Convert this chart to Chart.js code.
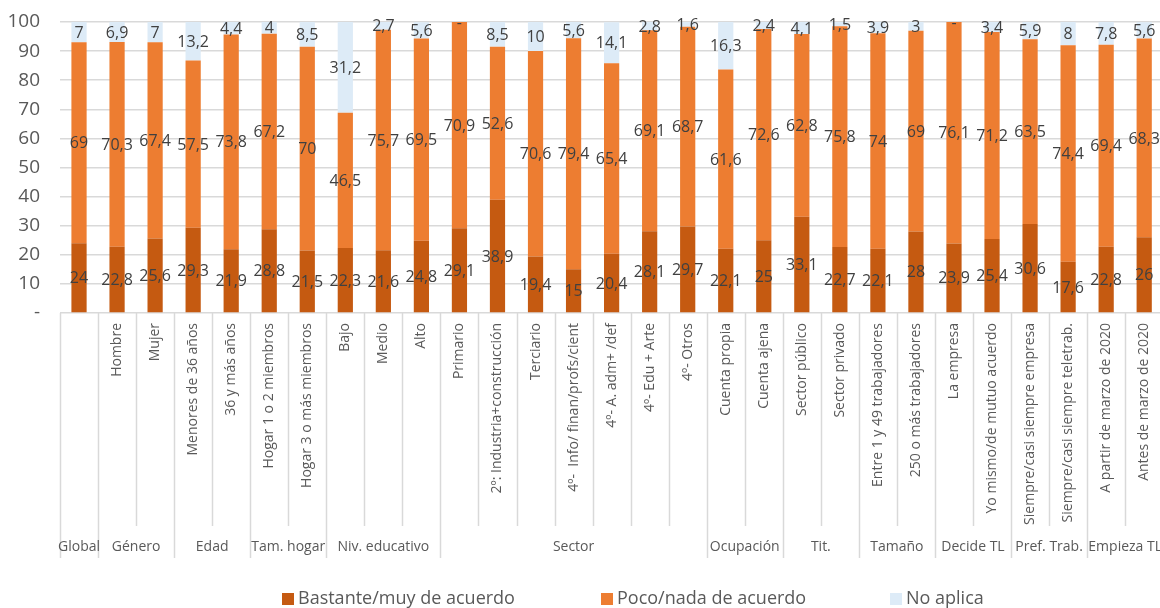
<!DOCTYPE html>
<html lang="es">
<head>
<meta charset="utf-8">
<title>Grado de acuerdo por grupo</title>
<script src="https://cdn.jsdelivr.net/npm/chart.js@4/dist/chart.umd.min.js"></script>
<style>
  html, body { margin: 0; padding: 0; background: #ffffff; overflow: hidden; }
  #wrap { width: 1160px; height: 608px; overflow: hidden; }
  canvas { display: block; }
</style>
</head>
<body>
<div id="wrap"><canvas id="chart" width="1171" height="608"></canvas></div>
<script>
// Categories along the x axis (the overall column carries only its group label)
const categories = [
  '', 'Hombre', 'Mujer', 'Menores de 36 años', '36 y más años',
  'Hogar 1 o 2 miembros', 'Hogar 3 o más miembros', 'Bajo', 'Medio', 'Alto',
  'Primario', '2º: Industria+construcción', 'Terciario', '4º-  Info/ finan/profs/cient',
  '4º- A. adm+ /def', '4º- Edu + Arte', '4º- Otros', 'Cuenta propia', 'Cuenta ajena',
  'Sector público', 'Sector privado', 'Entre 1 y 49 trabajadores', '250 o más trabajadores',
  'La empresa', 'Yo mismo/de mutuo acuerdo', 'Siempre/casi siempre empresa',
  'Siempre/casi siempre teletrab.', 'A partir de marzo de 2020', 'Antes de marzo de 2020'
];

// Category groups (name and number of categories in each)
const groupNames = ['Global', 'Género', 'Edad', 'Tam. hogar', 'Niv. educativo', 'Sector',
  'Ocupación', 'Tit.', 'Tamaño', 'Decide TL', 'Pref. Trab.', 'Empieza TL'];
const groupSizes = [1, 2, 2, 2, 3, 7, 2, 2, 2, 2, 2, 2];

// Series values (%)
const bastante = [24, 22.8, 25.6, 29.3, 21.9, 28.8, 21.5, 22.3, 21.6, 24.8, 29.1, 38.9, 19.4, 15,
  20.4, 28.1, 29.7, 22.1, 25, 33.1, 22.7, 22.1, 28, 23.9, 25.4, 30.6, 17.6, 22.8, 26];
const poco = [69, 70.3, 67.4, 57.5, 73.8, 67.2, 70, 46.5, 75.7, 69.5, 70.9, 52.6, 70.6, 79.4,
  65.4, 69.1, 68.7, 61.6, 72.6, 62.8, 75.8, 74, 69, 76.1, 71.2, 63.5, 74.4, 69.4, 68.3];
const noAplica = [7, 6.9, 7, 13.2, 4.4, 4, 8.5, 31.2, 2.7, 5.6, 0, 8.5, 10, 5.6,
  14.1, 2.8, 1.6, 16.3, 2.4, 4.1, 1.5, 3.9, 3, 0, 3.4, 5.9, 8, 7.8, 5.6];

// Y axis ticks
const yTicks = [0, 10, 20, 30, 40, 50, 60, 70, 80, 90, 100];

const seriesNames = ['Bastante/muy de acuerdo', 'Poco/nada de acuerdo', 'No aplica'];
const seriesColors = ['#C55A11', '#ED7D31', '#DDEBF7'];

const FONT = "'Open Sans', 'DejaVu Sans', sans-serif";
const fmt = v => (v === 0 ? '-' : String(v).replace('.', ','));

// Value labels centred in every bar segment
const segmentLabels = {
  id: 'segmentLabels',
  afterDatasetsDraw(chart) {
    const ctx = chart.ctx;
    ctx.save();
    ctx.font = '16px ' + FONT;
    ctx.fillStyle = '#404040';
    ctx.textAlign = 'center';
    ctx.textBaseline = 'middle';
    chart.data.datasets.forEach((ds, di) => {
      const meta = chart.getDatasetMeta(di);
      meta.data.forEach((bar, i) => {
        const y = (bar.y + bar.base) / 2;
        ctx.fillText(fmt(ds.data[i]), bar.x, y + 1);
      });
    });
    ctx.restore();
  }
};

// Category separators, group labels and legend below the plot
const groupAxis = {
  id: 'groupAxis',
  afterDraw(chart) {
    const ctx = chart.ctx;
    const xs = chart.scales.x;
    const area = chart.chartArea;
    const half = (xs.getPixelForValue(1) - xs.getPixelForValue(0)) / 2;
    const edge = i => xs.getPixelForValue(i) - half;

    const groupStarts = new Set();
    let acc = 0;
    groupSizes.forEach(n => { groupStarts.add(acc); acc += n; });
    groupStarts.add(acc);

    ctx.save();
    ctx.strokeStyle = '#d9d9d9';
    ctx.lineWidth = 1.5;
    for (let i = 0; i <= categories.length; i++) {
      const x = Math.round(edge(i)) + 0.5;
      const yEnd = groupStarts.has(i) ? area.bottom + 245 : area.bottom + 213;
      ctx.beginPath();
      ctx.moveTo(x, area.bottom);
      ctx.lineTo(x, yEnd);
      ctx.stroke();
    }

    ctx.font = '14px ' + FONT;
    ctx.fillStyle = '#595959';
    ctx.textAlign = 'center';
    ctx.textBaseline = 'middle';
    acc = 0;
    groupNames.forEach((name, g) => {
      const x0 = edge(acc), x1 = edge(acc + groupSizes[g]);
      ctx.fillText(name, (x0 + x1) / 2, area.bottom + 234);
      acc += groupSizes[g];
    });

    // legend
    const starts = [282, 601, 890];
    ctx.font = '18px ' + FONT;
    ctx.textAlign = 'left';
    ctx.textBaseline = 'alphabetic';
    chart.data.datasets.forEach((ds, di) => {
      ctx.fillStyle = ds.backgroundColor;
      ctx.fillRect(starts[di], 593, 12, 12);
      ctx.fillStyle = '#595959';
      ctx.fillText(ds.label, starts[di] + 16, 604);
    });
    ctx.restore();
  }
};

new Chart(document.getElementById('chart'), {
  type: 'bar',
  data: {
    labels: categories,
    datasets: [
      { label: seriesNames[0], data: bastante, backgroundColor: seriesColors[0] },
      { label: seriesNames[1], data: poco, backgroundColor: seriesColors[1] },
      { label: seriesNames[2], data: noAplica, backgroundColor: seriesColors[2] }
    ]
  },
  options: {
    responsive: false,
    animation: false,
    devicePixelRatio: 1,
    layout: { padding: { top: 22, right: 0, bottom: 0, left: 0 } },
    datasets: { bar: { categoryPercentage: 1, barPercentage: 0.4, borderWidth: 0 } },
    plugins: {
      legend: { display: false },
      tooltip: { enabled: false },
      title: { display: false }
    },
    scales: {
      x: {
        stacked: true,
        grid: { display: false, drawTicks: false },
        border: { display: false },
        ticks: {
          autoSkip: false,
          minRotation: 90,
          maxRotation: 90,
          padding: 10,
          color: '#595959',
          font: { family: FONT, size: 14 }
        },
        afterFit(scale) { scale.height = 295; }
      },
      y: {
        stacked: true,
        min: 0,
        max: 100,
        afterBuildTicks(scale) { scale.ticks = yTicks.map(v => ({ value: v })); },
        grid: { color: '#d9d9d9', lineWidth: 1.5, drawTicks: false },
        border: { display: false },
        ticks: {
          padding: 20,
          color: '#595959',
          font: { family: FONT, size: 19 },
          callback: v => (v === 0 ? '-' : v)
        },
        afterFit(scale) {
          scale.width = 60;
          scale.paddingTop = 0;
          scale.paddingBottom = 0;
        }
      }
    }
  },
  plugins: [segmentLabels, groupAxis]
});
</script>
</body>
</html>
